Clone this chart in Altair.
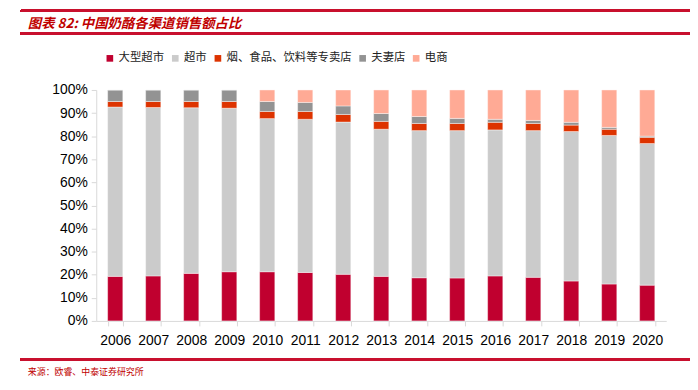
import altair as alt
import pandas as pd

years = [str(y) for y in range(2006, 2021)]
channels = ["大型超市", "超市", "烟、食品、饮料等专卖店", "夫妻店", "电商"]
colors = ["#C0002F", "#CBCBCB", "#DD3300", "#939393", "#FFAA95"]

hyper = [19.3, 19.5, 20.6, 21.3, 21.3, 21.0, 20.2, 19.3, 18.7, 18.6, 19.5, 18.9, 17.3, 16.0, 15.5]
supermarket = [73.3, 72.9, 71.7, 70.8, 66.3, 66.3, 65.9, 63.7, 63.7, 63.8, 63.2, 63.5, 64.7, 64.3, 61.3]
specialty = [2.4, 2.6, 2.7, 2.9, 3.1, 3.4, 3.3, 3.4, 3.1, 3.1, 3.3, 3.1, 2.8, 2.7, 2.7]
mom_pop = [5.0, 5.0, 5.0, 5.0, 4.3, 3.9, 3.7, 3.4, 3.0, 2.2, 1.3, 1.3, 1.2, 0.8, 0.5]
ecommerce = [0.0, 0.0, 0.0, 0.0, 5.0, 5.4, 6.9, 10.2, 11.5, 12.3, 12.7, 13.2, 14.0, 16.2, 20.0]

series = [hyper, supermarket, specialty, mom_pop, ecommerce]
rows = []
for ci, (name, vals) in enumerate(zip(channels, series)):
    for y, v in zip(years, vals):
        rows.append({"year": y, "channel": name, "value": v, "ord": ci})
df = pd.DataFrame(rows)

FONT = "Noto Sans CJK SC"
NUMFONT = "Liberation Sans"

bars = alt.Chart(df).mark_bar(stroke="white", strokeWidth=0.6, strokeOpacity=0.7).encode(
    x=alt.X("year:N", title=None, sort=years,
            scale=alt.Scale(paddingInner=0.6, paddingOuter=0.3),
            axis=alt.Axis(labelAngle=0, labelFont=NUMFONT, labelFontSize=14, labelColor="#000000",
                          labelPadding=8, tickBand="extent", tickColor="#d9d9d9", tickSize=5,
                          domainColor="#d9d9d9", grid=False)),
    y=alt.Y("value:Q", title=None, stack="normalize",
            scale=alt.Scale(domain=[0, 1]),
            axis=alt.Axis(format=".0%", values=[i / 10 for i in range(11)], labelFont=NUMFONT,
                          labelFontSize=14, labelColor="#000000", tickColor="#d9d9d9", tickSize=5,
                          domainColor="#d9d9d9", grid=False, labelPadding=4)),
    color=alt.Color("channel:N", scale=alt.Scale(domain=channels, range=colors),
                    legend=alt.Legend(title=None, orient="none", direction="horizontal",
                                      legendX=8, legendY=-38, symbolType="square", symbolSize=45,
                                      symbolStrokeWidth=0, labelFont=FONT, labelFontSize=11.5,
                                      labelColor="#222222", columnPadding=5, labelOffset=3)),
    order=alt.Order("ord:Q", sort="ascending"),
)

decor_red = "#C8102E"
top_line = alt.Chart(df).mark_rule(color=decor_red, strokeWidth=2).encode(
    x=alt.value(-76), x2=alt.value(601), y=alt.value(-80))
mid_line = alt.Chart(df).mark_rule(color=decor_red, strokeWidth=2).encode(
    x=alt.value(-76), x2=alt.value(601), y=alt.value(-57))
bot_line = alt.Chart(df).mark_rule(color=decor_red, strokeWidth=2).encode(
    x=alt.value(-76), x2=alt.value(601), y=alt.value(272))

title = alt.Chart(pd.DataFrame({"t": ["图表 82:  中国奶酪各渠道销售额占比"]})).mark_text(
    font=FONT, fontSize=13.5, fontStyle="italic", fontWeight="bold", color="#C00000",
    align="left", baseline="alphabetic").encode(
    x=alt.value(-69), y=alt.value(-63), text="t:N")

source = alt.Chart(pd.DataFrame({"t": ["来源：欧睿、中泰证券研究所"]})).mark_text(
    font=FONT, fontSize=9, color="#C00000", align="left", baseline="middle").encode(
    x=alt.value(-69), y=alt.value(285), text="t:N")

chart = alt.layer(bars, top_line, mid_line, bot_line, title, source).properties(
    width=575, height=233,
    autosize=alt.AutoSizeParams(type="none"),
    padding={"left": 89, "top": 81, "right": 24, "bottom": 68},
).configure_view(stroke=None)

chart.save("out.html", embed_options={"renderer": "svg", "actions": False})
